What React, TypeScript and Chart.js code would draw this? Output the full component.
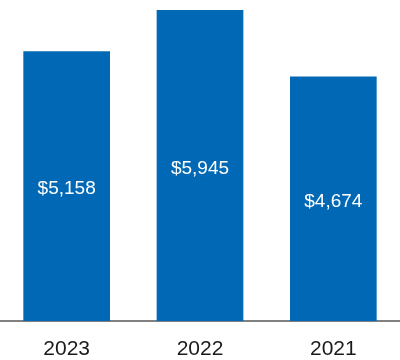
import React, { useEffect, useRef } from "react";
import { Chart, registerables } from "chart.js";

Chart.register(...registerables);

const categories = ["2023", "2022", "2021"];
const values = [5158, 5945, 4674];
const valueLabels = ["$5,158", "$5,945", "$4,674"];

const BAR_COLOR = "#0068B4";

const insideLabels = {
  id: "insideLabels",
  afterDatasetsDraw(chart: any) {
    const { ctx } = chart;
    const meta = chart.getDatasetMeta(0);
    ctx.save();
    ctx.fillStyle = "#ffffff";
    ctx.font = "19px 'Liberation Sans', Arial, sans-serif";
    ctx.textAlign = "center";
    ctx.textBaseline = "middle";
    meta.data.forEach((bar: any, i: number) => {
      const y = (bar.y + bar.base) / 2 + 3;
      ctx.fillText(valueLabels[i], bar.x, y);
    });
    ctx.restore();
  },
};

export default function App() {
  const ref = useRef<HTMLCanvasElement | null>(null);
  useEffect(() => {
    if (!ref.current) return;
    const chart = new Chart(ref.current, {
      type: "bar",
      data: {
        labels: categories,
        datasets: [
          {
            data: values,
            backgroundColor: BAR_COLOR,
            borderWidth: 0,
            barPercentage: 0.65,
            categoryPercentage: 1,
          },
        ],
      },
      options: {
        animation: false,
        responsive: true,
        maintainAspectRatio: false,
        layout: { padding: 0 },
        plugins: {
          legend: { display: false },
          tooltip: { enabled: false },
        },
        scales: {
          x: {
            grid: { display: false },
            border: { display: true, color: "#808080", width: 2 },
            ticks: {
              color: "#1a1a1a",
              font: { family: "'Liberation Sans', Arial, sans-serif", size: 21 },
              padding: 8,
            },
            afterFit: (scale: any) => {
              scale.height = 39;
            },
          },
          y: {
            display: false,
            min: 0,
            max: 6136,
          },
        },
      },
      plugins: [insideLabels],
    });
    return () => chart.destroy();
  }, []);
  return (
    <div style={{ position: "fixed", left: 0, top: 0, width: 400, height: 360 }}>
      <canvas ref={ref} />
    </div>
  );
}
